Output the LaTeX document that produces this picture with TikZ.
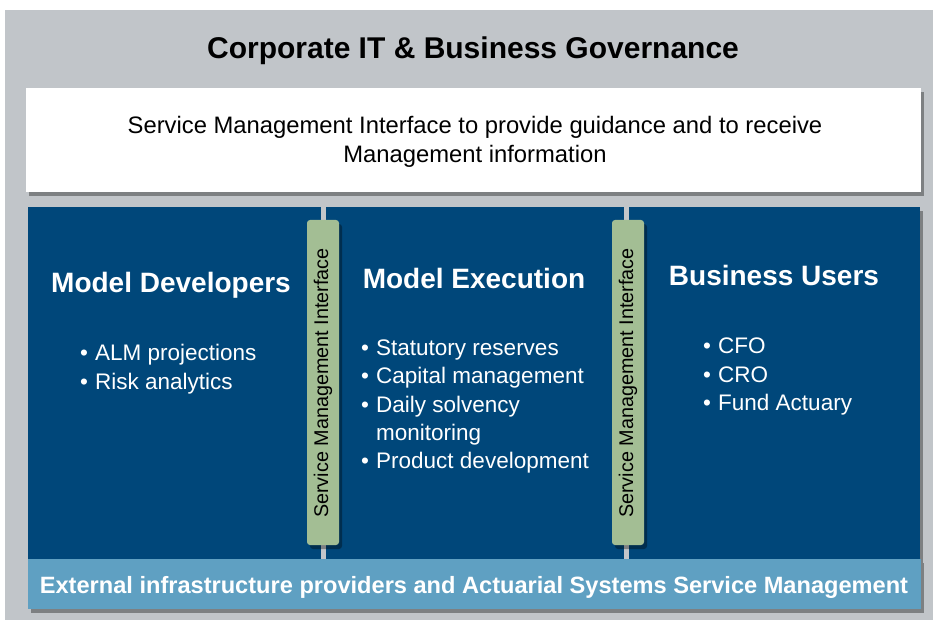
\documentclass[tikz,border=0pt]{standalone}
\usepackage{fontspec}
\setmainfont{Liberation Sans}
\usetikzlibrary{shadows}
\definecolor{bggray}{HTML}{C1C5C9}
\definecolor{darkblue}{HTML}{00477A}
\definecolor{lightblue}{HTML}{5FA0C2}
\definecolor{sage}{HTML}{A3BE94}
\definecolor{stemgray}{HTML}{C3C6CA}
\tikzset{
  shadowed/.style={drop shadow={shadow xshift=3pt,shadow yshift=-4pt,opacity=0.35,fill=black}},
  heading/.style={text=white,font=\fontsize{28}{31}\selectfont\bfseries,anchor=base,inner sep=0pt},
  item/.style={text=white,font=\fontsize{22.5}{25}\selectfont,anchor=base west,inner sep=0pt},
  iface/.style={fill=sage,rounded corners=3pt,shadowed},
  stem/.style={fill=stemgray},
}
\newcommand{\bul}[1]{\makebox[15pt][l]{\textbullet}#1}
\begin{document}
\begin{tikzpicture}[x=1pt,y=-1pt]
\useasboundingbox (0,0) rectangle (933,620);
\fill[white] (0,0) rectangle (933,620);
\fill[bggray] (5,10) rectangle (933,620);
% title
\node[anchor=base,inner sep=0pt,font=\fontsize{30}{33}\selectfont\bfseries] (title) at (473,59) {Corporate IT \& Business Governance};
% white box
\fill[white,shadowed] (26,88) rectangle (921,192);
\node[anchor=base,inner sep=0pt,font=\fontsize{23.8}{29}\selectfont] (smi1) at (475,134) {Service Management Interface to provide guidance and to receive};
\node[anchor=base,inner sep=0pt,font=\fontsize{23.8}{29}\selectfont] (smi2) at (475,163) {Management information};
% main blue panel
\fill[darkblue,shadowed] (28,207) rectangle (920,559);
% stems
\fill[stem] (321,207) rectangle (326,559);
\fill[stem] (624,207) rectangle (629,559);
% interface bars
\path[iface] (307,220) rectangle (339,545);
\path[iface] (612,220) rectangle (644,545);
\node[rotate=90,inner sep=0pt,font=\fontsize{19.8}{22}\selectfont] (if1) at (323,383) {Service Management Interface};
\node[rotate=90,inner sep=0pt,font=\fontsize{19.8}{22}\selectfont] (if2) at (628,383) {Service Management Interface};
% bottom bar
\fill[lightblue,shadowed] (28,559) rectangle (921,609);
\node[anchor=base,inner sep=0pt,text=white,font=\fontsize{23.6}{26}\selectfont\bfseries] (ext) at (474,593) {External infrastructure providers and Actuarial Systems Service Management};
% headings
\node[heading] (md) at (171,292) {Model Developers};
\node[heading] (me) at (474,288) {Model Execution};
\node[heading] (bu) at (774,285) {Business Users};
% left items
\node[item] (l1) at (80,360) {\bul{ALM projections}};
\node[item] (l2) at (80,389) {\bul{Risk analytics}};
% middle items
\node[item] (m1) at (361,355) {\bul{Statutory reserves}};
\node[item] (m2) at (361,383) {\bul{Capital management}};
\node[item] (m3) at (361,412) {\bul{Daily solvency}};
\node[item] (m4) at (361,440) {\hspace*{15pt}monitoring};
\node[item] (m5) at (361,468) {\bul{Product development}};
% right items
\node[item] (r1) at (703,353) {\bul{CFO}};
\node[item] (r2) at (703,382) {\bul{CRO}};
\node[item] (r3) at (703,410) {\bul{Fund Actuary}};
\end{tikzpicture}
\end{document}
